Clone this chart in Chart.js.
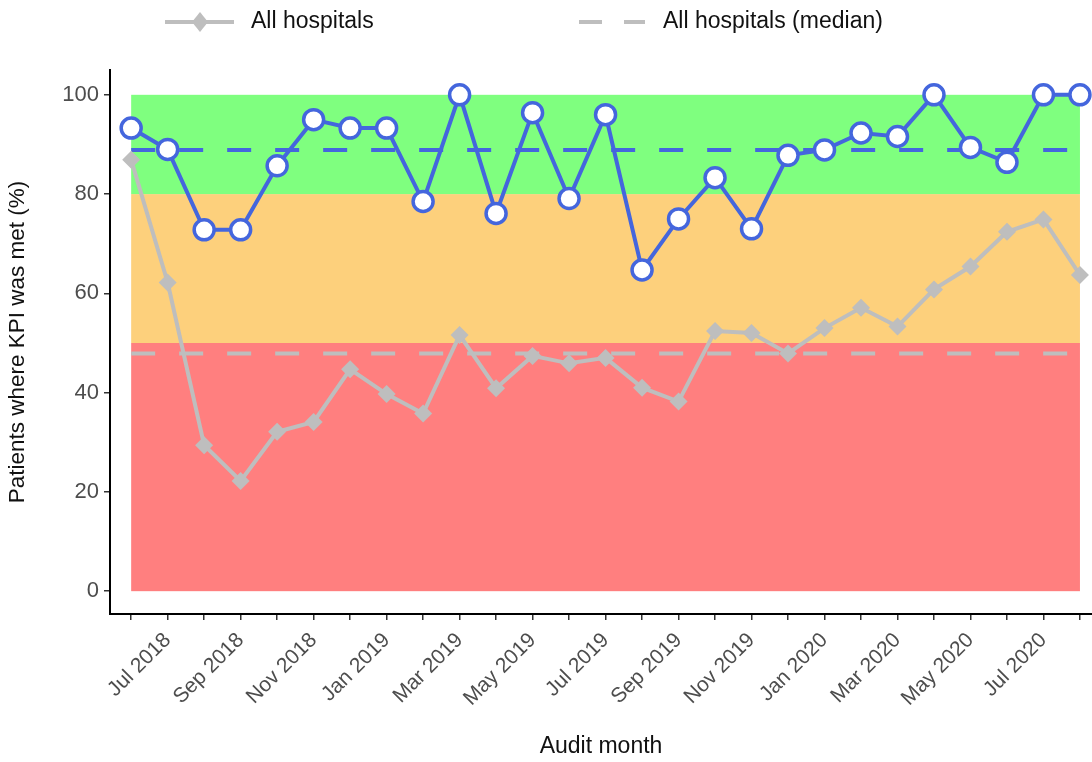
<!DOCTYPE html>
<html>
<head>
<meta charset="utf-8">
<title>KPI audit</title>
<script src="https://cdn.jsdelivr.net/npm/chart.js@4.4.1/dist/chart.umd.min.js"></script>
<style>
    html, body { margin: 0; padding: 0; background: #fff; }
    #kpi-chart { display: block; }
</style>
</head>
<body>
<canvas id="kpi-chart" width="1092" height="762"></canvas>
<script>
// audit months, Jun 2018 - Aug 2020
const months = [
    'Jun 2018', 'Jul 2018', 'Aug 2018', 'Sep 2018', 'Oct 2018', 'Nov 2018', 'Dec 2018',
    'Jan 2019', 'Feb 2019', 'Mar 2019', 'Apr 2019', 'May 2019', 'Jun 2019', 'Jul 2019',
    'Aug 2019', 'Sep 2019', 'Oct 2019', 'Nov 2019', 'Dec 2019',
    'Jan 2020', 'Feb 2020', 'Mar 2020', 'Apr 2020', 'May 2020', 'Jun 2020', 'Jul 2020', 'Aug 2020'
];
const hospitalValues = [
    93.3, 89.0, 72.8, 72.8, 85.7, 95.0, 93.3, 93.3, 78.5, 100, 76.1, 96.4, 79.1, 96.0,
    64.7, 75.0, 83.3, 73.0, 87.8, 88.9, 92.3, 91.6, 100, 89.4, 86.4, 100, 100
];
const allHospitalValues = [
    86.9, 62.2, 29.4, 22.2, 32.1, 34.1, 44.7, 39.7, 35.8, 51.6, 40.9, 47.4, 45.9, 47.0,
    41.0, 38.2, 52.4, 52.0, 47.9, 53.0, 57.1, 53.3, 60.8, 65.4, 72.4, 74.9, 63.7
];
const hospitalMedian = 88.9;
const allHospitalMedian = 47.9;
const bandLimits = [0, 50, 80, 100];
const bandColors = ['#FF7F7F', '#FDD07C', '#7FFF7F'];
const yTicks = [0, 20, 40, 60, 80, 100];

const BLUE = '#4466DD';
const GREY = '#BEBEBE';
const FONT = '"Liberation Sans", Arial, sans-serif';

const toPoints = (values) => values.map((v, i) => ({ x: i, y: v }));

// red / amber / green background bands over the audit period
const bandsPlugin = {
    id: 'bands',
    beforeDatasetsDraw(chart) {
        const { ctx, scales: { x, y } } = chart;
        const left = x.getPixelForValue(0);
        const right = x.getPixelForValue(months.length - 1);
        ctx.save();
        for (let i = 0; i < bandColors.length; i++) {
            const top = y.getPixelForValue(bandLimits[i + 1]);
            const bottom = y.getPixelForValue(bandLimits[i]);
            ctx.fillStyle = bandColors[i];
            ctx.fillRect(left, top, right - left, bottom - top);
        }
        ctx.restore();
    }
};

// legend at the top: only the all-hospitals series are listed
const topLegendPlugin = {
    id: 'topLegend',
    afterDraw(chart) {
        const ctx = chart.ctx;
        const y = 22;
        ctx.save();
        ctx.strokeStyle = GREY;
        ctx.lineWidth = 4;
        ctx.beginPath();
        ctx.moveTo(165, y);
        ctx.lineTo(234, y);
        ctx.stroke();
        ctx.fillStyle = GREY;
        ctx.beginPath();
        ctx.moveTo(200, y - 10);
        ctx.lineTo(208, y);
        ctx.lineTo(200, y + 10);
        ctx.lineTo(192, y);
        ctx.closePath();
        ctx.fill();
        ctx.setLineDash([23, 22]);
        ctx.beginPath();
        ctx.moveTo(579, y);
        ctx.lineTo(645, y);
        ctx.stroke();
        ctx.setLineDash([]);
        ctx.fillStyle = '#111';
        ctx.font = '23px ' + FONT;
        ctx.textBaseline = 'middle';
        ctx.fillText('All hospitals', 251, y);
        ctx.fillText('All hospitals (median)', 663, y);
        ctx.restore();
    }
};

const ctx = document.getElementById('kpi-chart').getContext('2d');
const kpiChart = new Chart(ctx, {
    type: 'line',
    data: {
        datasets: [
            {
                label: 'Hospital',
                data: toPoints(hospitalValues),
                borderColor: BLUE,
                borderWidth: 4,
                pointRadius: 10,
                pointBorderWidth: 3.5,
                pointBackgroundColor: '#fff',
                pointBorderColor: BLUE,
                order: 1,
                clip: false
            },
            {
                label: 'All hospitals',
                data: toPoints(allHospitalValues),
                borderColor: GREY,
                borderWidth: 4,
                pointStyle: 'rectRot',
                pointRadius: 9,
                pointBorderWidth: 0,
                pointBackgroundColor: GREY,
                order: 2,
                clip: false
            },
            {
                label: 'Hospital (median)',
                data: toPoints(months.map(() => hospitalMedian)),
                borderColor: BLUE,
                borderWidth: 4,
                borderDash: [24, 24],
                pointRadius: 0,
                order: 3
            },
            {
                label: 'All hospitals (median)',
                data: toPoints(months.map(() => allHospitalMedian)),
                borderColor: GREY,
                borderWidth: 4,
                borderDash: [24, 24],
                pointRadius: 0,
                order: 4
            }
        ]
    },
    options: {
        responsive: false,
        animation: false,
        layout: { autoPadding: false, padding: { top: 70, right: 0, bottom: 0, left: 0 } },
        plugins: {
            legend: { display: false },
            tooltip: { enabled: false }
        },
        scales: {
            x: {
                type: 'linear',
                min: -0.58,
                max: 26.33,
                afterBuildTicks: (scale) => {
                    scale.ticks = months.map((m, i) => ({ value: i }));
                },
                afterFit: (scale) => {
                    scale.height = 148;
                    scale.paddingRight = 0;
                },
                ticks: {
                    autoSkip: false,
                    minRotation: 45,
                    maxRotation: 45,
                    padding: 8,
                    color: '#4D4D4D',
                    font: { family: FONT, size: 21 },
                    callback: (value) => (value % 2 === 1 ? months[value] : '')
                },
                grid: { drawOnChartArea: false, drawTicks: true, tickLength: 6, color: '#333', lineWidth: 1.5 },
                border: { display: true, color: '#000', width: 2 },
                title: {
                    display: true,
                    text: 'Audit month',
                    color: '#111',
                    font: { family: FONT, size: 23 },
                    padding: { top: 0, bottom: 2 }
                }
            },
            y: {
                min: -4.6,
                max: 105,
                afterBuildTicks: (scale) => {
                    scale.ticks = yTicks.map((v) => ({ value: v }));
                },
                afterFit: (scale) => { scale.width = 110; },
                ticks: {
                    padding: 5,
                    color: '#4D4D4D',
                    font: { family: FONT, size: 22 }
                },
                grid: { drawOnChartArea: false, drawTicks: true, tickLength: 6, color: '#333', lineWidth: 1.5 },
                border: { display: true, color: '#000', width: 2 },
                title: {
                    display: true,
                    text: 'Patients where KPI was met (%)',
                    color: '#111',
                    font: { family: FONT, size: 22.5 },
                    padding: { top: 4, bottom: 0 }
                }
            }
        }
    },
    plugins: [bandsPlugin, topLegendPlugin]
});
</script>
</body>
</html>
